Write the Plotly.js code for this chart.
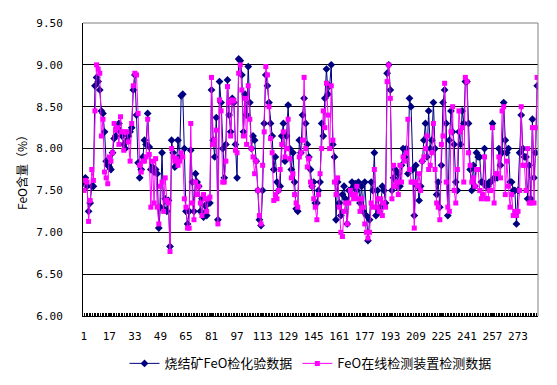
<!DOCTYPE html>
<html>
<head>
<meta charset="utf-8">
<script src="https://cdn.plot.ly/plotly-3.0.1.min.js"></script>
<style>html,body{margin:0;padding:0;background:#fff;}#chart{width:557px;height:385px;}</style>
</head>
<body>
<div id="chart"></div>
<script>
// Sample numbers 1..285 (category axis)
const seriesNames = ["烧结矿FeO检化验数据", "FeO在线检测装置检测数据"];
const xTickLabels = [1, 17, 33, 49, 65, 81, 97, 113, 129, 145, 161, 177, 193, 209, 225, 241, 257, 273];
const yTicks = [6.0, 6.5, 7.0, 7.5, 8.0, 8.5, 9.0, 9.5];

// 烧结矿FeO检化验数据 (lab assay)
const labValues = [
  7.60, 7.65, 7.55, 7.25, 7.35, 7.55, 7.55, 8.75, 8.85, 8.80, 8.70, 8.45,
  8.42, 8.20, 7.85, 7.80, 7.78, 7.75, 7.95, 8.12,
  8.15, 8.25, 8.30, 8.20, 8.15, 8.05, 8.00, 8.10, 8.15, 8.20,
  8.25, 8.70, 8.88, 8.40, 7.83, 7.65, 7.75, 7.90, 8.10, 8.05,
  8.42, 8.02, 7.75, 7.78, 7.72, 7.75, 7.70, 7.05, 7.30, 7.95,
  7.28, 7.40, 7.25, 7.38, 6.83, 8.10, 7.95, 7.78, 7.80, 8.10,
  7.90, 8.63, 8.65, 8.00, 7.25, 7.10, 7.25, 7.98, 7.60, 7.25,
  7.70, 7.60, 7.55, 7.25, 7.40, 7.18, 7.32, 7.20, 7.35, 7.35,
  8.70, 8.10, 7.90, 8.37, 7.15, 8.80, 8.55, 8.00, 7.65, 8.05,
  8.82, 8.40, 8.20, 8.60, 8.55, 8.05, 7.65, 9.07, 9.05, 8.88,
  8.20, 8.65, 8.40, 8.98, 8.55, 8.00, 8.15, 8.10, 7.85, 7.50,
  7.15, 7.08, 7.50, 8.30, 8.88, 8.75, 8.55, 8.30, 8.15, 7.75,
  7.90, 7.60, 7.50, 7.55, 8.15, 8.30, 7.85, 8.15, 8.52, 8.00,
  7.75, 7.95, 7.60, 7.28, 7.25, 8.10, 7.95, 8.40, 8.60, 8.30,
  8.05, 7.90, 7.75, 7.55, 7.60, 7.35, 7.35, 7.50, 7.60, 8.30,
  8.15, 8.60, 8.95, 8.65, 8.75, 9.00, 8.05, 7.90, 7.15, 7.60,
  7.35, 7.20, 7.45, 7.55, 7.40, 7.10, 7.50, 7.50, 7.60, 7.55,
  7.58, 7.50, 7.60, 7.35, 7.55, 7.25, 7.60, 7.20, 6.90, 7.15,
  7.60, 7.50, 7.95, 7.20, 7.50, 7.25, 7.30, 7.55, 7.50, 7.35,
  8.90, 9.00, 8.70, 7.50, 7.65, 7.75, 7.55, 7.70, 7.55, 7.80,
  8.00, 7.90, 8.00, 7.70, 8.60, 8.50, 7.75, 7.20, 7.80, 7.55,
  7.38, 7.55, 7.85, 8.10, 8.30, 7.90, 8.45, 8.00, 8.10, 8.55,
  8.00, 7.45, 7.60, 7.30, 7.80, 8.55, 8.70, 8.30, 7.20, 8.10,
  8.45, 8.20, 8.05, 7.60, 7.50, 8.20, 8.05, 8.45, 8.30, 8.80,
  8.80, 8.30, 7.75, 7.50, 7.80, 7.55, 7.95, 7.90, 7.90, 7.60,
  7.60, 8.00, 7.55, 7.55, 7.60, 7.60, 8.30, 7.65, 7.65, 7.65,
  8.00, 7.80, 7.95, 8.55, 8.10, 7.95, 8.00, 7.60, 7.60, 7.50,
  7.50, 7.10, 7.50, 7.95, 8.40, 8.00, 7.90, 7.90, 7.40, 7.80,
  7.40, 8.35, 7.65, 7.95, 8.75
];

// FeO在线检测装置检测数据 (online detector)
const onlineValues = [
  7.50, 7.62, 7.60, 7.13, 7.38, 7.75, 7.62, 8.45, 9.00, 8.95, 8.90, 8.15,
  8.35, 7.72, 7.65, 7.58, 7.90, 7.85, 7.95, 8.30,
  8.22, 8.25, 8.05, 8.38, 8.20, 7.98, 8.20, 8.20, 8.08, 7.85,
  8.30, 8.75, 8.90, 8.88, 8.42, 7.80, 7.72, 7.85, 7.85, 7.90,
  8.35, 7.93, 7.30, 7.85, 7.35, 7.88, 7.30, 7.10, 7.55, 7.60,
  7.25, 7.65, 7.38, 7.35, 6.77, 8.00, 7.90, 7.85, 7.88, 7.80,
  7.85, 7.95, 7.90, 7.40, 7.30, 7.05, 7.05, 8.30, 7.35, 7.15,
  7.60, 7.45, 7.55, 7.35, 7.20, 7.45, 7.40, 7.25, 7.40, 7.42,
  8.85, 8.05, 8.10, 8.22, 7.10, 8.58, 8.45, 7.60, 7.60, 7.85,
  8.74, 8.55, 8.15, 8.58, 8.57, 7.98, 7.95, 8.90, 9.00, 8.70,
  8.15, 8.60, 8.05, 8.75, 8.35, 8.00, 7.90, 7.70, 7.85, 7.50,
  7.20, 7.10, 7.80, 8.20, 8.98, 8.88, 8.50, 8.12, 7.95, 7.38,
  7.45, 7.40, 7.50, 7.75, 8.05, 8.20, 7.90, 8.00, 8.35, 7.88,
  7.65, 7.70, 7.45, 7.35, 7.30, 7.90, 7.95, 8.10, 8.85, 8.00,
  7.78, 7.88, 7.60, 7.55, 7.40, 7.30, 7.15, 7.45, 7.70, 8.00,
  8.45, 8.25, 8.78, 8.40, 8.00, 8.75, 8.10, 7.60, 7.45, 7.65,
  7.30, 7.00, 6.95, 7.25, 7.35, 7.10, 7.35, 7.50, 7.45, 7.40,
  7.45, 7.55, 7.40, 7.25, 7.40, 7.30, 7.10, 7.00, 6.93, 7.00,
  7.35, 7.30, 7.75, 7.30, 7.40, 7.25, 7.40, 7.20, 7.35, 7.30,
  8.80, 9.00, 8.60, 7.40, 7.80, 7.55, 7.60, 7.45, 7.80, 7.60,
  7.90, 7.85, 7.95, 8.35, 7.75, 7.60, 7.60, 7.05, 7.60, 7.55,
  7.70, 7.50, 7.85, 7.90, 8.00, 8.15, 7.75, 7.80, 7.95, 8.30,
  7.75, 7.35, 7.30, 7.15, 8.05, 8.15, 8.78, 7.60, 7.30, 7.25,
  8.20, 8.50, 7.50, 7.35, 7.75, 8.45, 8.20, 8.25, 7.60, 8.85,
  8.80, 7.95, 7.80, 7.60, 7.65, 7.55, 7.75, 7.75, 7.50, 7.40,
  7.45, 7.90, 7.40, 7.40, 7.50, 7.50, 8.25, 7.35, 7.70, 7.70,
  7.90, 7.65, 8.45, 8.50, 7.45, 7.85, 7.55, 7.30, 7.45, 7.20,
  7.25, 7.20, 7.25, 7.50, 8.50, 7.80, 7.80, 7.50, 8.00, 7.35,
  7.35, 8.25, 7.35, 8.25, 8.85
];

const sampleNo = labValues.map((_, i) => i + 1);

const traces = [
  {
    x: sampleNo, y: labValues, name: seriesNames[0], type: "scatter", mode: "lines+markers",
    line: {color: "#000080", width: 1},
    marker: {symbol: "diamond", size: 6, color: "#000080"}
  },
  {
    x: sampleNo, y: onlineValues, name: seriesNames[1], type: "scatter", mode: "lines+markers",
    line: {color: "#FF00FF", width: 1},
    marker: {symbol: "square", size: 5, color: "#FF00FF"}
  }
];

const monoFont = {family: "DejaVu Sans Mono, monospace", size: 11, color: "#000"};
const cjkFont = "Noto Sans CJK SC, sans-serif";

const layout = {
  width: 557, height: 385,
  margin: {l: 83, r: 19, t: 23, b: 69, autoexpand: false},
  paper_bgcolor: "#fff", plot_bgcolor: "#fff",
  showlegend: true,
  legend: {
    orientation: "h", x: 0.5, xanchor: "center",
    yref: "container", y: 0.095, yanchor: "top",
    font: {family: cjkFont, size: 13, color: "#000"},
    itemwidth: 30, tracegroupgap: 0
  },
  xaxis: {
    range: [0.5, 285.5], automargin: false,
    tickmode: "array", tickvals: xTickLabels, ticktext: xTickLabels.map(String),
    ticks: "inside", ticklen: 3, tickcolor: "#000",
    minor: {dtick: 1, tick0: 0.5, ticks: "inside", ticklen: 3, tickcolor: "#000", showgrid: false},
    showgrid: false, zeroline: false,
    showline: true, linecolor: "#000", linewidth: 1,
    tickfont: monoFont, ticklabelstandoff: 10
  },
  yaxis: {
    range: [6, 9.5], automargin: false,
    tickmode: "array", tickvals: yTicks, tickformat: ".2f",
    ticks: "", showgrid: true, gridcolor: "#000", gridwidth: 1,
    zeroline: false, showline: true, linecolor: "#000", linewidth: 1,
    tickfont: monoFont, ticklabelstandoff: 17,
    title: {text: "FeO含量（%）", font: {family: cjkFont, size: 12, color: "#000"}, standoff: 6}
  },
  shapes: [
    {type: "line", xref: "paper", yref: "paper", x0: 0, x1: 1, y0: 1, y1: 1, line: {color: "#808080", width: 1}, layer: "above"},
    {type: "line", xref: "paper", yref: "paper", x0: 1, x1: 1, y0: 0, y1: 1, line: {color: "#808080", width: 1}, layer: "above"}
  ]
};

Plotly.newPlot("chart", traces, layout, {displayModeBar: false, staticPlot: true});
</script>
</body>
</html>
